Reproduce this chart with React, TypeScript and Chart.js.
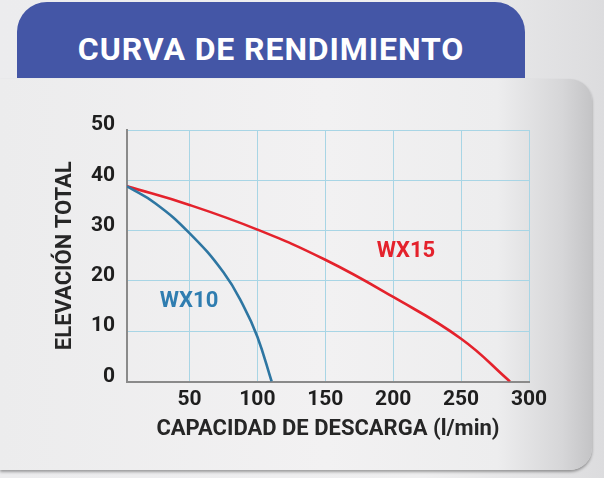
import React, { useEffect, useRef } from "react";
import { Chart, registerables } from "chart.js";

Chart.register(...registerables);

// Data
const wx10Flow = [4, 25, 50, 75, 90, 100, 110.5];
const wx10Head = [38.8, 35.4, 29.5, 21.7, 14.9, 8.9, 0];
const wx15Flow = [4, 50, 100, 150, 200, 250, 286];
const wx15Head = [38.8, 35.1, 30.2, 24.2, 16.8, 8.5, 0];
const xTickValues = [50, 100, 150, 200, 250, 300];
const yTickValues = [0, 10, 20, 30, 40, 50];
const seriesNames = ["WX10", "WX15"];
const seriesLabelPos = [
  { x: 49.7, y: 16 },
  { x: 209.4, y: 25.8 },
];
const titleText = "CURVA DE RENDIMIENTO";
const xTitle = "CAPACIDAD DE DESCARGA (l/min)";
const yTitle = "ELEVACIÓN TOTAL";

const BLUE = "#2e76a2";
const BLUE_TXT = "#2f7db0";
const RED = "#e4222c";
const GRID = "#a8d5e5";
const AXIS = "#8a8a8a";
const FONT = "Roboto, 'Noto Sans', sans-serif";

const seriesLabelPlugin = {
  id: "seriesLabels",
  afterDatasetsDraw(chart: any) {
    const { ctx, scales } = chart;
    ctx.save();
    ctx.font = `bold 22px ${FONT}`;
    ctx.textAlign = "center";
    ctx.textBaseline = "middle";
    seriesNames.forEach((name, i) => {
      ctx.fillStyle = i === 0 ? BLUE_TXT : RED;
      ctx.fillText(
        name,
        scales.x.getPixelForValue(seriesLabelPos[i].x),
        scales.y.getPixelForValue(seriesLabelPos[i].y)
      );
    });
    ctx.restore();
  },
};

export default function App() {
  const canvasRef = useRef<HTMLCanvasElement | null>(null);

  useEffect(() => {
    document.body.style.margin = "0";
    const canvas = canvasRef.current!;
    const chart = new Chart(canvas, {
      type: "line",
      data: {
        datasets: [
          {
            label: seriesNames[0],
            data: wx10Flow.map((x, i) => ({ x, y: wx10Head[i] })),
            borderColor: BLUE,
            borderWidth: 2.6,
            pointRadius: 0,
            tension: 0.45,
            capBezierPoints: false,
            fill: false,
          },
          {
            label: seriesNames[1],
            data: wx15Flow.map((x, i) => ({ x, y: wx15Head[i] })),
            borderColor: RED,
            borderWidth: 2.6,
            pointRadius: 0,
            tension: 0.45,
            capBezierPoints: false,
            fill: false,
          },
        ],
      },
      options: {
        responsive: false,
        animation: false,
        layout: { padding: { left: 52, top: 130, right: 75, bottom: 35 } },
        plugins: {
          legend: { display: false },
          tooltip: { enabled: false },
          title: { display: false },
        },
        scales: {
          x: {
            type: "linear",
            min: 4,
            max: 300,
            afterBuildTicks: (axis: any) => {
              axis.ticks = xTickValues.map((v) => ({ value: v }));
            },
            afterFit: (scale: any) => {
              scale.height = 61.5;
            },
            grid: { color: GRID, lineWidth: 1, drawTicks: false },
            border: { color: AXIS, width: 2 },
            ticks: {
              padding: 6,
              color: "#1e1e1e",
              font: { family: FONT, size: 21, weight: "bold" },
              maxRotation: 0,
              autoSkip: false,
            },
            title: {
              display: true,
              text: xTitle,
              color: "#262626",
              padding: 0,
              font: { family: FONT, size: 22, weight: "bold" },
            },
          },
          y: {
            type: "linear",
            min: 0,
            max: 50,
            afterBuildTicks: (axis: any) => {
              axis.ticks = yTickValues.map((v) => ({ value: v }));
            },
            afterFit: (scale: any) => {
              scale.width = 75;
            },
            grid: {
              color: (c: any) => (c.tick && c.tick.value === 0 ? "rgba(0,0,0,0)" : GRID),
              lineWidth: 1,
              drawTicks: false,
            },
            border: { color: AXIS, width: 2 },
            ticks: {
              padding: 12,
              labelOffset: -5,
              color: "#1e1e1e",
              font: { family: FONT, size: 21, weight: "bold" },
              autoSkip: false,
            },
            title: {
              display: true,
              text: yTitle,
              color: "#262626",
              padding: 0,
              font: { family: FONT, size: 22, weight: "bold" },
            },
          },
        },
      },
      plugins: [seriesLabelPlugin],
    } as any);
    return () => chart.destroy();
  }, []);

  return (
    <div
      style={{
        position: "fixed",
        left: 0,
        top: 0,
        width: 604,
        height: 478,
        overflow: "hidden",
        background: "linear-gradient(to right, #ececee 0%, #efeff0 70%, #dcdcde 100%)",
      }}
    >
      <div
        style={{
          position: "absolute",
          left: 0,
          top: 79,
          width: 592,
          height: 391,
          borderRadius: "0 22px 22px 0",
          background:
            "linear-gradient(to right, #ececed 0%, #f2f1f2 55%, #ededee 84%, #d6d6d8 95%, #c4c4c6 100%)",
          boxShadow: "0 2px 3px rgba(0,0,0,0.35)",
        }}
      />
      <div
        style={{
          position: "absolute",
          left: 17,
          top: 2,
          width: 508,
          height: 76,
          borderRadius: "30px 30px 0 0",
          background: "#4456a6",
        }}
      >
        <div
          style={{
            position: "absolute",
            left: 0,
            right: 0,
            top: 30.5,
            textAlign: "center",
            color: "#ffffff",
            fontFamily: FONT,
            fontWeight: 700,
            fontSize: 32,
            lineHeight: "32px",
            letterSpacing: "0.9px",
            whiteSpace: "nowrap",
          }}
        >
          {titleText}
        </div>
      </div>
      <canvas
        ref={canvasRef}
        width={604}
        height={478}
        style={{ position: "absolute", left: 0, top: 0, width: 604, height: 478 }}
      />
    </div>
  );
}
